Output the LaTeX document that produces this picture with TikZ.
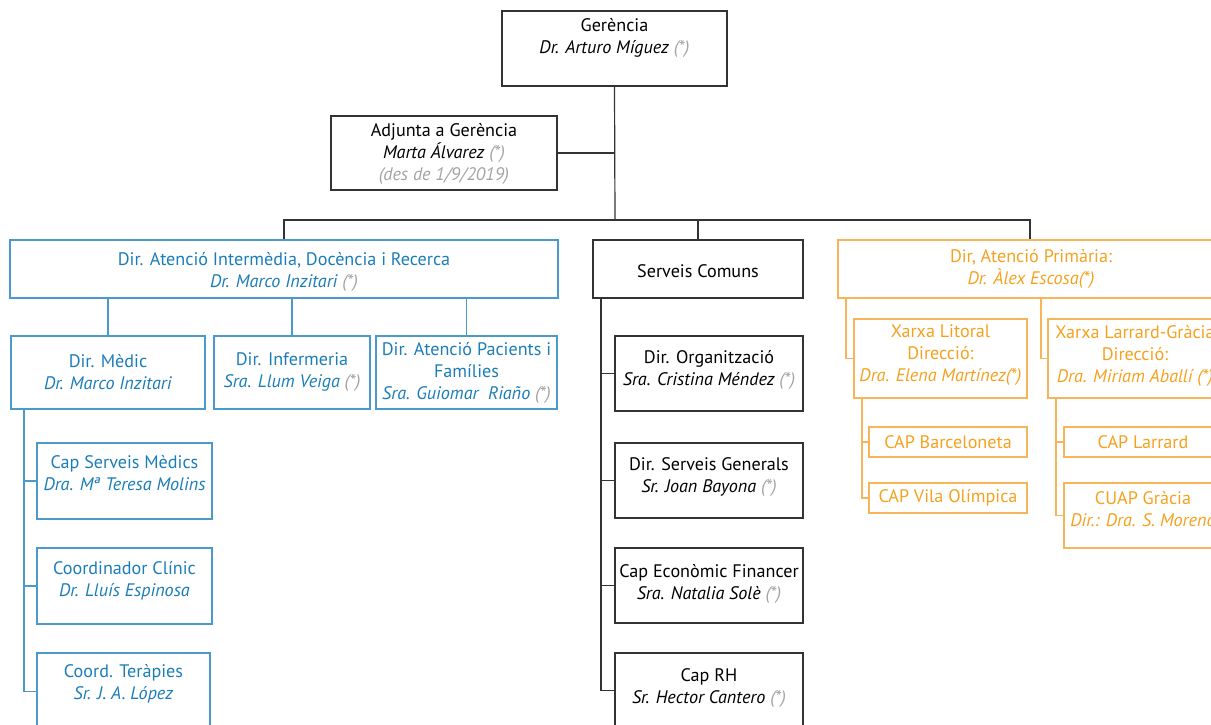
\documentclass[tikz,border=0pt]{standalone}
\usepackage{fontspec}
\setmainfont{PT Sans}
\usetikzlibrary{positioning,fit}
\definecolor{ink}{HTML}{333333}
\definecolor{notegray}{HTML}{A3A3A3}
\definecolor{bluetext}{HTML}{1B7DB8}
\definecolor{blueline}{HTML}{4A9BCB}
\definecolor{orangetext}{HTML}{F5A11E}
\definecolor{orangeline}{HTML}{F8B458}
\newcommand{\nota}{\textcolor{notegray}{(*)}}

\begin{document}
\begin{tikzpicture}[x=0.75pt,y=-0.75pt,
	orgbox/.style={draw, inner sep=0pt, line width=0.9pt},
	blackbox/.style={orgbox, draw=ink},
	bluebox/.style={orgbox, draw=blueline},
	orangebox/.style={orgbox, draw=orangeline},
	txt/.style={align=center, inner sep=0pt, font=\fontsize{13.6}{16.5}\selectfont},
	blacktxt/.style={txt, text=black},
	bluetxt/.style={txt, text=bluetext},
	orangetxt/.style={txt, text=orangetext},
	blackconn/.style={draw=ink, line width=0.9pt},
	blueconn/.style={draw=blueline, line width=0.9pt},
	orangeconn/.style={draw=orangeline, line width=0.9pt}]
			\useasboundingbox (0,0) rectangle (1211,725);
			\clip (0,0) rectangle (1211,725);
			
			% Gerencia and adjunta
			\node[blackbox, fit={(502,11) (727,86)}] (ger) {};
			\node[blacktxt] (ger-t) at (614.5,38) {Gerència\\\textit{Dr. Arturo Míguez \nota}};
			\node[blackbox, fit={(331,116) (557,190)}] (adj) {};
			\node[blacktxt] (adj-t) at (444,153.5) {Adjunta a Gerència\\\textit{Marta Álvarez \nota}\\\textit{\textcolor{notegray}{(des de 1/9/2019)}}};
			
			% Direccions
			\node[bluebox, fit={(10,240) (558,298)}] (dai) {};
			\node[bluetxt] (dai-t) at (284,271.5) {Dir. Atenció Intermèdia, Docència i Recerca\\\textit{Dr. Marco Inzitari \nota}};
			\node[blackbox, fit={(593,240) (803,298)}] (sc) {};
			\node[blacktxt] (sc-t) at (698,271) {Serveis Comuns};
			\node[orangebox, fit={(838,240) (1222,298)}] (dap) {};
			\node[orangetxt] (dap-t) at (1031,269) {Dir, Atenció Primària:\\\textit{Dr. Àlex Escosa(*)}};
			
			% Atencio intermedia
			\node[bluebox, fit={(11,336) (205,409)}] (dm) {};
			\node[bluetxt] (dm-t) at (108,372) {Dir. Mèdic\\\textit{Dr. Marco Inzitari}};
			\node[bluebox, fit={(214,336) (370,409)}] (di) {};
			\node[bluetxt] (di-t) at (292,372) {Dir. Infermeria\\\textit{Sra. Llum Veiga \nota}};
			\node[bluebox, fit={(376,336) (557,409)}] (dp) {};
			\node[bluetxt] (dp-t) at (466.5,372.5) {Dir. Atenció Pacients i\\Famílies\\\textit{Sra. Guiomar\ \ Riaño \nota}};
			\node[bluebox, fit={(37,443) (212,519)}] (csm) {};
			\node[bluetxt] (csm-t) at (124.5,473.5) {Cap Serveis Mèdics\\\textit{Dra. Mª Teresa Molins}};
			\node[bluebox, fit={(37,548) (212,624)}] (cc) {};
			\node[bluetxt] (cc-t) at (124.5,580.5) {Coordinador Clínic\\\textit{Dr. Lluís Espinosa}};
			\node[bluebox, fit={(37,653) (210,730)}] (ct) {};
			\node[bluetxt] (ct-t) at (123.5,683.5) {Coord. Teràpies\\\textit{Sr. J. A. López}};
			
			% Serveis comuns
			\node[blackbox, fit={(615,336) (803,411)}] (do) {};
			\node[blacktxt] (do-t) at (709,370) {Dir. Organització\\\textit{Sra. Cristina Méndez \nota}};
			\node[blackbox, fit={(615,443) (803,518)}] (sg) {};
			\node[blacktxt] (sg-t) at (709,477.5) {Dir. Serveis Generals\\\textit{Sr. Joan Bayona \nota}};
			\node[blackbox, fit={(615,548) (803,623)}] (ce) {};
			\node[blacktxt] (ce-t) at (709,583.5) {Cap Econòmic Financer\\\textit{Sra. Natalia Solè \nota}};
			\node[blackbox, fit={(615,653) (803,728)}] (rh) {};
			\node[blacktxt] (rh-t) at (709,688) {Cap RH\\\textit{Sr. Hector Cantero \nota}};
			
			% Atencio primaria
			\node[orangebox, fit={(854,319) (1027,398)}] (xl) {};
			\node[orangetxt] (xl-t) at (940.5,355.5) {Xarxa Litoral\\Direcció:\\\textit{Dra. Elena Martínez(*)}};
			\node[orangebox, fit={(1048,319) (1222,398)}] (xg) {};
			\node[orangetxt] (xg-t) at (1135,355.5) {Xarxa Larrard-Gràcia\\Direcció:\\\textit{Dra. Miriam Aballí (*)}};
			\node[orangebox, fit={(869,427) (1027,457)}] (cb) {};
			\node[orangetxt] (cb-t) at (948,442) {CAP Barceloneta};
			\node[orangebox, fit={(869,483) (1027,513)}] (cv) {};
			\node[orangetxt] (cv-t) at (948,498) {CAP Vila Olímpica};
			\node[orangebox, fit={(1064,427) (1222,457)}] (cl) {};
			\node[orangetxt] (cl-t) at (1143,442) {CAP Larrard};
			\node[orangebox, fit={(1064,483) (1222,548)}] (cu) {};
			\node[orangetxt] (cu-t) at (1143,509) {CUAP Gràcia\\\textit{Dir.: Dra. S. Moreno}};
			
			% connectors
			\coordinate (bus) at (615,220);
			\coordinate (mr) at (24,409);
			\coordinate (scr) at (601,298);
			\coordinate (lr) at (846,298);
			\coordinate (gr) at (1041,298);
			\coordinate (xlr) at (862,398);
			\coordinate (xgr) at (1056,398);
			\draw[blackconn] (ger.south) -- (bus);
			\draw[blackconn] (adj.east) -- (adj.east -| bus);
			\draw[blackconn] (dai.north) |- (bus) -| (dap.north);
			\draw[blackconn] (sc.north) -- (sc.north |- bus);
			\foreach \n in {dm,di,dp}
				\draw[blueconn] (\n.north) -- (\n.north |- dai.south);
			\draw[blueconn] (mr) |- (ct.west);
			\foreach \n in {csm,cc}
				\draw[blueconn] (\n.west) -| (mr);
			\draw[blackconn] (scr) |- (rh.west);
			\foreach \n in {do,sg,ce}
				\draw[blackconn] (\n.west) -| (scr);
			\draw[orangeconn] (lr) |- (xl.west);
			\draw[orangeconn] (gr) |- (xg.west);
			\draw[orangeconn] (xlr) |- (cv.west);
			\draw[orangeconn] (cb.west) -| (xlr);
			\draw[orangeconn] (xgr) |- (cu.west);
			\draw[orangeconn] (cl.west) -| (xgr);
		\end{tikzpicture}
\end{document}
